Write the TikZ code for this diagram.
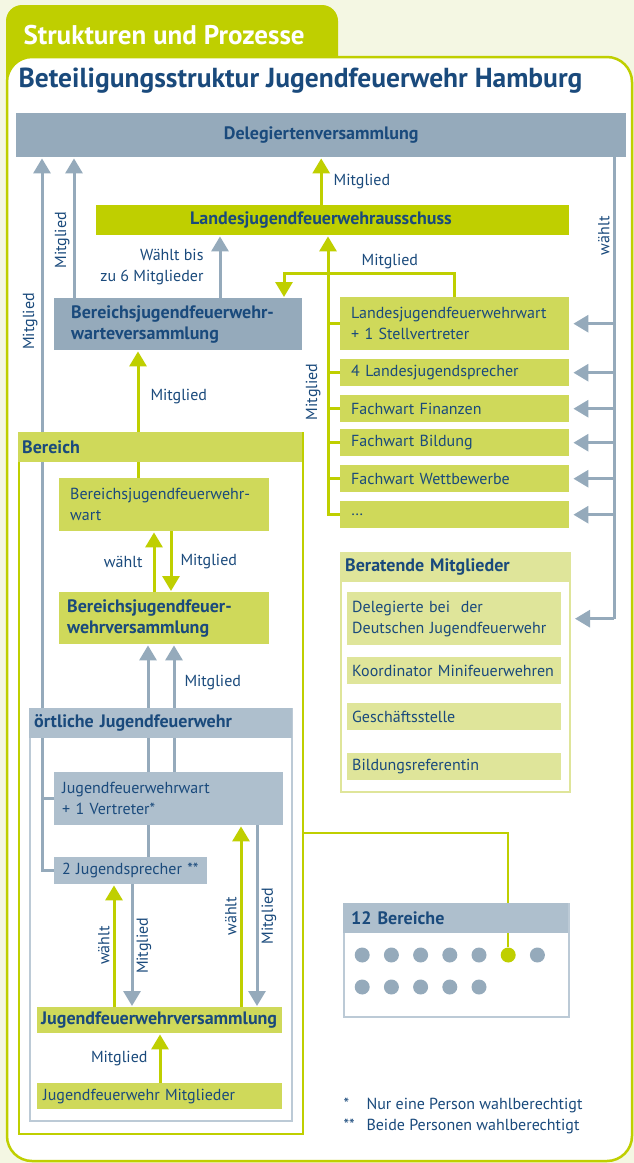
\documentclass[tikz,border=0pt]{standalone}
\usepackage{fontspec}
\setmainfont{PT Sans}
\usetikzlibrary{arrows.meta}

\definecolor{creme}{HTML}{F4F7E3}
\definecolor{limette}{HTML}{BFCF00}
\definecolor{gruenmittel}{HTML}{CFD95A}
\definecolor{gruenhell}{HTML}{DFE59A}
\definecolor{blaugrau}{HTML}{95AABB}
\definecolor{blauhell}{HTML}{AEBFCD}
\definecolor{blaurand}{HTML}{BCCAD6}
\definecolor{dunkelblau}{HTML}{1A4A7C}

\begin{document}
\begin{tikzpicture}[x=1pt,y=-1pt,>={Triangle[width=17pt,length=15pt]},
    font=\fontsize{16}{21}\selectfont, text=dunkelblau,
    box/.style={anchor=north west,align=left,inner ysep=0pt},
    fett/.style={font=\fontsize{18}{21}\selectfont\bfseries},
    kopf/.style={box,fett,minimum height=30pt},
    rahmen/.style={box,line width=2pt},
    liste/.style={box,fill=gruenmittel,minimum width=229pt,minimum height=27pt,text width=207pt,inner xsep=11pt},
    berater/.style={box,fill=gruenhell,minimum width=214pt,minimum height=27pt,text width=204pt,inner xsep=5pt},
    punkt/.style={circle,inner sep=0pt,minimum size=15pt},
    grau/.style={draw=blaugrau,line width=3pt},
    gruen/.style={draw=limette,line width=3pt},
    pfeil/.style={->,shorten >=1pt},
    hochkant/.style={rotate=90},
    beschr/.style={inner sep=3pt}]

    \useasboundingbox (0,0) rectangle (634,1163);
    \fill[creme] (0,0) rectangle (634,1163);

    % Reiter und Rahmen
    \fill[limette, rounded corners=16pt] (6,5) rectangle (338,100);
    \draw[limette, line width=2.5pt, fill=white, rounded corners=25pt] (7,57) rectangle (632,1161);
    \node[anchor=west, text=white, font=\fontsize{27}{30}\selectfont\bfseries] (reiter) at (20,35) {Strukturen und Prozesse};
    \node[anchor=west, font=\fontsize{27.5}{30}\selectfont\bfseries] (titel) at (15,81) {Beteiligungsstruktur Jugendfeuerwehr Hamburg};

    % Landesebene
    \node[box, fett, fill=blaugrau, minimum width=610pt, minimum height=44pt] (deleg) at (16,113) {Delegiertenversammlung};
    \node[box, fett, fill=limette, minimum width=473pt, minimum height=30pt, text width=285pt, inner xsep=94pt] (ljfa) at (96,205) {Landesjugendfeuerwehrausschuss};
    \node[box, fett, fill=blaugrau, minimum width=248pt, minimum height=52pt, text width=214pt, inner xsep=17pt] (bjfwv) at (54,298) {Bereichsjugendfeuerwehr-\\warteversammlung};

    \node[liste, minimum height=53pt] (ljfw) at (340,297) {Landesjugendfeuerwehrwart\\+ 1 Stellvertreter};
    \node[liste] (ljs) at (340,359) {4 Landesjugendsprecher};
    \node[liste] (fwfin) at (340,395) {Fachwart Finanzen};
    \node[liste] (fwbil) at (340,429) {Fachwart Bildung};
    \node[liste] (fwwet) at (340,465) {Fachwart Wettbewerbe};
    \node[liste] (weitere) at (340,501) {…};

    % Beratende Mitglieder
    \node[rahmen, draw=gruenhell, minimum width=229pt, minimum height=239pt] (berat) at (340,552) {};
    \node[berater, minimum height=53pt] (deldjf) at (347,592) {Delegierte bei\ \ der\\Deutschen Jugendfeuerwehr};
    \node[berater] (koord) at (347,657) {Koordinator Minifeuerwehren};
    \node[berater] (gst) at (347,703) {Geschäftsstelle};
    \node[berater] (bildref) at (347,753) {Bildungsreferentin};

    % Bereich
    \node[rahmen, draw=limette, minimum width=284pt, minimum height=701pt] (bereich) at (18,432) {};
    \node[box, fill=gruenmittel, minimum width=210pt, minimum height=53pt, text width=188pt, inner xsep=11pt] (bjfw) at (59,478) {Bereichsjugendfeuerwehr-\\wart};
    \node[box, fett, fill=gruenmittel, minimum width=210pt, minimum height=52pt, text width=194pt, inner xsep=8pt] (bjfv) at (59,592) {Bereichsjugendfeuer-\\wehrversammlung};

    % oertliche Jugendfeuerwehr
    \node[rahmen, draw=blaurand, minimum width=262pt, minimum height=412pt] (ort) at (29,708) {};
    \node[box, fill=blauhell, minimum width=229pt, minimum height=53pt, text width=213pt, inner xsep=8pt] (jfw) at (54,772) {Jugendfeuerwehrwart\\+ 1 Vertreter*};
    \node[box, fill=blauhell, minimum width=153pt, minimum height=27pt, text width=137pt, inner xsep=8pt] (jsp) at (54,857) {2 Jugendsprecher **};
    \node[box, fett, fill=gruenmittel, minimum width=245pt, minimum height=26pt, text width=237pt, inner xsep=4pt] (jfv) at (37,1007) {Jugendfeuerwehrversammlung};
    \node[box, fill=gruenmittel, minimum width=245pt, minimum height=26pt, text width=233pt, inner xsep=6pt] (jfm) at (37,1083) {Jugendfeuerwehr Mitglieder};

    % 12 Bereiche
    \node[rahmen, draw=blaurand, minimum width=225pt, minimum height=113pt] (zwoelf) at (343,903) {};
    \foreach \i/\f in {1/blaugrau,2/blaugrau,3/blaugrau,4/blaugrau,5/blaugrau,6/limette,7/blaugrau}
        \node[punkt, fill=\f] (p\i) at ({333+29.2*\i},955) {};
    \foreach \i in {8,...,12}
        \node[punkt, fill=blaugrau] (p\i) at ({333+29.2*(\i-7)},987) {};

    \node[box] (fussnote) at (340,1098) {\makebox[23pt][l]{*}Nur eine Person wahlberechtigt\\\makebox[23pt][l]{**}Beide Personen wahlberechtigt};

    % Hilfskoordinaten fuer die Linien
    \coordinate (s42) at (42,0);
    \coordinate (s74) at (74,0);
    \coordinate (s114) at (114,0);
    \coordinate (s132) at (132,0);
    \coordinate (s138) at (138,0);
    \coordinate (s148) at (148,0);
    \coordinate (s154) at (154,0);
    \coordinate (s160) at (160,0);
    \coordinate (s171) at (171,0);
    \coordinate (s174) at (174,0);
    \coordinate (s220) at (220,0);
    \coordinate (s241) at (241,0);
    \coordinate (s257) at (257,0);
    \coordinate (s284) at (284,0);
    \coordinate (s328) at (328,0);
    \coordinate (s614) at (614,0);
    \coordinate (z833) at (0,833);

    % Verbindungen Landesebene
    \draw[gruen, pfeil] (ljfa.north -| deleg.south) -- (deleg.south) node[beschr, midway, right=8pt] {Mitglied};
    \draw[grau, pfeil] (bjfwv.north -| s220) -- (ljfa.south -| s220) node[beschr, midway, left=12pt, align=right] {Wählt bis\\zu 6 Mitglieder};
    \draw[grau, pfeil] (bjfwv.north -| s74) -- (deleg.south -| s74) node[beschr, hochkant, pos=0.41, anchor=south] {Mitglied};
    \draw[grau, pfeil] (jsp.west) -- (jsp.west -| s42) -- (deleg.south -| s42) node[beschr, hochkant, pos=0.77, anchor=south] {Mitglied};
    \draw[grau] (jfw.west) -- (jfw.west -| s42);
    \draw[gruen, pfeil] (ljfw.north) -- ++(0,-24) -| (bjfwv.north -| s284) node[beschr, pos=0.19, above] {Mitglied};

    \draw[gruen, pfeil] (weitere.west) -- (weitere.west -| s328) -- (ljfa.south -| s328) node[beschr, hochkant, pos=0.44, anchor=south, inner sep=6pt] {Mitglied};
    \foreach \n in {ljfw,ljs,fwfin,fwbil,fwwet}
        \draw[gruen] (\n.west) -- (\n.west -| s328);

    \draw[grau] (deleg.south -| s614) -- (deldjf.east -| s614) node[beschr, hochkant, pos=0.17, anchor=south] {wählt};
    \foreach \n in {ljfw,ljs,fwfin,fwbil,fwwet,weitere}
        \draw[grau, pfeil, shorten >=4pt] (\n.east -| s614) -- (\n.east);
    \draw[grau, pfeil, shorten >=4pt] (deldjf.east -| s614) -- (deldjf.east -| berat.east);

    % Verbindungen Bereich
    \draw[gruen, pfeil] (bjfw.north -| s138) -- (bjfwv.south -| s138) node[beschr, pos=0.64, right=8pt] {Mitglied};
    \draw[gruen, pfeil] (bjfv.north -| s154) -- (bjfw.south -| s154) node[beschr, midway, left=7pt] {wählt};
    \draw[gruen, pfeil] (bjfw.south -| s171) -- (bjfv.north -| s171) node[beschr, midway, right=5pt] {Mitglied};
    \draw[grau] (jsp.north -| s148) -- (jfw.south -| s148);
    \draw[grau, pfeil] (jfw.north -| s148) -- (bjfv.south -| s148);
    \draw[grau, pfeil] (jfw.north -| s174) -- (bjfv.south -| s174) node[beschr, pos=0.70, right=6pt] {Mitglied};

    % Verbindungen Jugendfeuerwehr
    \draw[gruen, pfeil] (jfv.north -| s114) -- (jsp.south -| s114) node[beschr, hochkant, midway, anchor=south] {wählt};
    \draw[grau, pfeil] (jsp.south -| s132) -- (jfv.north -| s132) node[beschr, hochkant, midway, anchor=north] {Mitglied};
    \draw[gruen, pfeil] (jfv.north -| s241) -- (jfw.south -| s241) node[beschr, hochkant, midway, anchor=south] {wählt};
    \draw[grau, pfeil] (jfw.south -| s257) -- (jfv.north -| s257) node[beschr, hochkant, midway, anchor=north] {Mitglied};
    \draw[gruen, pfeil] (jfm.north -| s160) -- (jfv.south -| s160) node[beschr, midway, left=8pt] {Mitglied};

    \draw[limette, line width=2pt] (bereich.east |- z833) -| (p6);

    % Kopfzeilen
    \node[kopf, fill=gruenmittel, minimum width=284pt, text width=276pt, inner xsep=4pt] (bereichkopf) at (bereich.north west) {Bereich};
    \node[kopf, fill=blauhell, minimum width=263pt, text width=253pt, inner xsep=5pt] (ortkopf) at (ort.north west) {örtliche Jugendfeuerwehr};
    \node[kopf, fill=gruenhell, minimum width=229pt, text width=219pt, inner xsep=5pt] (beratkopf) at (berat.north west) {Beratende Mitglieder};
    \node[kopf, fill=blauhell, minimum width=225pt, text width=209pt, inner xsep=8pt] (zwoelfkopf) at (zwoelf.north west) {12 Bereiche};
\end{tikzpicture}
\end{document}
